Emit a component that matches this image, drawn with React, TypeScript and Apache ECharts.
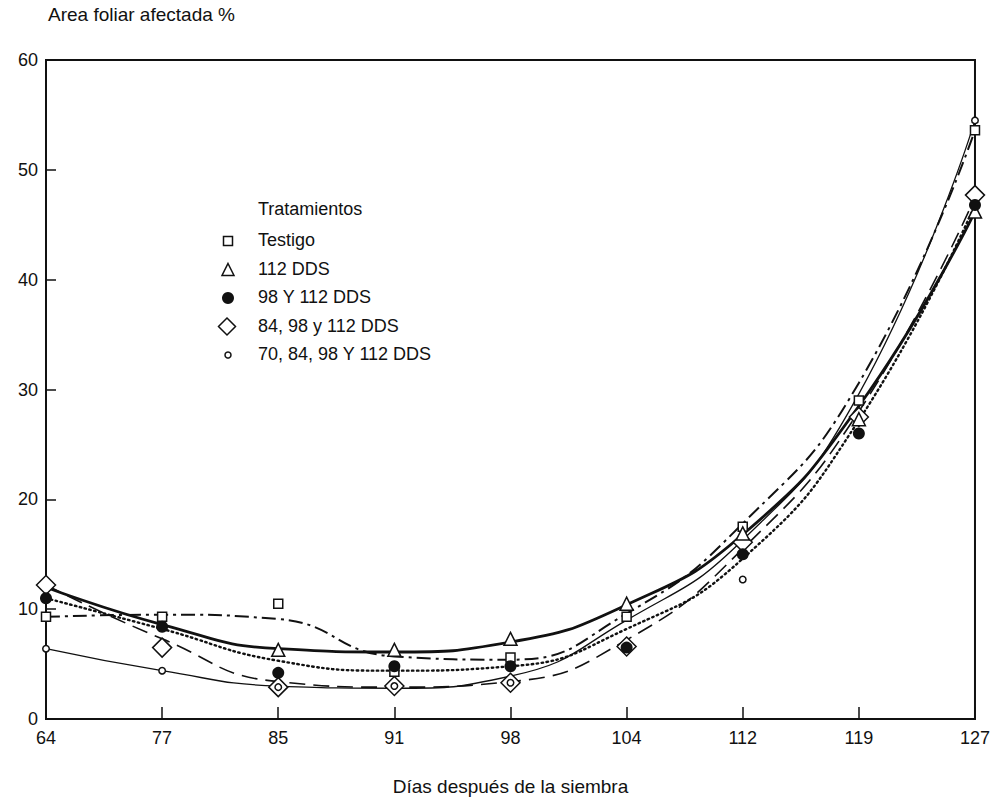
import React, { useEffect, useRef } from "react";
import * as echarts from "echarts";

// ---- data ----
const days = ["64", "77", "85", "91", "98", "104", "112", "119", "127"];
const treatmentNames = [
  "Testigo",
  "112 DDS",
  "98 Y 112 DDS",
  "84, 98 y 112 DDS",
  "70, 84, 98 Y 112 DDS",
];

// observed points (% leaf area affected)
const obsTestigo = [9.3, 9.3, 10.5, 4.3, 5.6, 9.3, 17.5, 29.0, 53.6];
const obs112 = [null, null, 6.3, 6.3, 7.3, 10.5, 16.9, 27.3, 46.2];
const obs98_112 = [11.0, 8.4, 4.2, 4.8, 4.8, 6.5, 15.0, 26.0, 46.8];
const obs84_98_112 = [12.2, 6.5, 2.9, 3.0, 3.3, 6.6, 16.1, 27.5, 47.7];
const obs70_84_98_112 = [6.4, 4.4, 2.9, 3.0, 3.3, null, 12.7, null, 54.5];

// fitted curves (read at each sampling day)
const fitTestigo = [9.3, 9.5, 9.1, 5.7, 5.4, 9.6, 17.8, 30.6, 53.6];
const fit112 = [12.0, 8.6, 6.4, 6.1, 7.0, 10.4, 16.8, 28.5, 46.2];
const fit98_112 = [11.0, 8.2, 5.3, 4.4, 4.8, 8.2, 14.6, 27.2, 46.8];
const fit84_98_112 = [12.2, 7.3, 3.4, 2.9, 3.4, 7.2, 15.5, 28.0, 47.5];
const fit70_84_98_112 = [6.4, 4.4, 3.0, 2.8, 3.9, 9.0, 16.3, 29.6, 54.5];

const FONT = "'Liberation Sans', Arial, Helvetica, sans-serif";
const INK = "#111";

export default function App() {
  const ref = useRef<HTMLDivElement>(null);

  useEffect(() => {
    if (!ref.current) return;
    const chart = echarts.init(ref.current, null, { renderer: "svg" });

    const lineBase = (name: string, data: (number | null)[], ls: any) => ({
      type: "line",
      name: name + " (ajuste)",
      data,
      smooth: 0.5,
      symbol: "none",
      z: 2,
      lineStyle: { color: INK, ...ls },
      silent: true,
    });

    const scatterBase = (
      name: string,
      data: (number | null)[],
      symbol: string,
      size: number,
      filled: boolean,
      z: number
    ) => ({
      type: "scatter",
      name,
      data,
      symbol,
      symbolSize: size,
      z,
      itemStyle: {
        color: filled ? INK : "#fff",
        borderColor: INK,
        borderWidth: filled ? 0 : 1.5,
        opacity: 1,
      },
    });

    // legend built from the treatment names
    const legendSymbols = [
      { kind: "square", size: 9 },
      { kind: "triangle", size: 12 },
      { kind: "dot", size: 12 },
      { kind: "diamond", size: 17 },
      { kind: "ring", size: 6 },
    ];
    const legendX = 228;
    const legendY0 = 241;
    const legendStep = 28.5;
    const legendGraphics: any[] = [
      {
        type: "text",
        left: 258,
        top: 200,
        style: { text: "Tratamientos", font: `18px ${FONT}`, fill: INK },
      },
    ];
    treatmentNames.forEach((n, i) => {
      const cy = legendY0 + i * legendStep;
      const s = legendSymbols[i];
      const stroke = { stroke: INK, lineWidth: 1.5, fill: "#fff" };
      let shape: any;
      if (s.kind === "square") {
        shape = {
          type: "rect",
          shape: { x: legendX - s.size / 2, y: cy - s.size / 2, width: s.size, height: s.size },
          style: stroke,
        };
      } else if (s.kind === "triangle") {
        const h = s.size;
        shape = {
          type: "polygon",
          shape: {
            points: [
              [legendX, cy - h / 2],
              [legendX + h / 2, cy + h / 2],
              [legendX - h / 2, cy + h / 2],
            ],
          },
          style: stroke,
        };
      } else if (s.kind === "dot") {
        shape = { type: "circle", shape: { cx: legendX, cy, r: s.size / 2 }, style: { fill: INK } };
      } else if (s.kind === "diamond") {
        const h = s.size / 2;
        shape = {
          type: "polygon",
          shape: {
            points: [
              [legendX - 1, cy - h],
              [legendX - 1 + h, cy],
              [legendX - 1, cy + h],
              [legendX - 1 - h, cy],
            ],
          },
          style: stroke,
        };
      } else {
        shape = { type: "circle", shape: { cx: legendX, cy, r: s.size / 2 }, style: stroke };
      }
      legendGraphics.push(shape);
      legendGraphics.push({
        type: "text",
        left: 258,
        top: cy - 10,
        style: { text: n, font: `18px ${FONT}`, fill: INK },
      });
    });

    chart.setOption({
      animation: false,
      backgroundColor: "#fff",
      textStyle: { fontFamily: FONT, color: INK },
      grid: {
        left: 46,
        right: 10,
        top: 60,
        bottom: 75,
        show: true,
        borderColor: INK,
        borderWidth: 2,
        backgroundColor: "transparent",
      },
      xAxis: {
        type: "category",
        data: days,
        boundaryGap: false,
        name: "Días después de la siembra",
        nameLocation: "middle",
        nameGap: 58,
        nameTextStyle: { fontSize: 19, color: INK, fontFamily: FONT },
        axisLine: { lineStyle: { color: INK, width: 2 } },
        axisTick: { inside: true, length: 12, lineStyle: { color: INK, width: 1.5 } },
        axisLabel: { fontSize: 18, color: INK, margin: 10, fontFamily: FONT },
        splitLine: { show: false },
      },
      yAxis: {
        type: "value",
        min: 0,
        max: 60,
        interval: 10,
        name: "Area foliar afectada %",
        nameLocation: "end",
        nameGap: 36,
        nameTextStyle: { fontSize: 19, color: INK, align: "left", padding: [0, 0, 0, 2], fontFamily: FONT },
        axisLine: { show: true, lineStyle: { color: INK, width: 2 } },
        axisTick: { show: true, inside: true, length: 10, lineStyle: { color: INK, width: 1.5 } },
        axisLabel: { fontSize: 18, color: INK, margin: 8, fontFamily: FONT },
        splitLine: { show: false },
      },
      graphic: legendGraphics,
      series: [
        lineBase(treatmentNames[0], fitTestigo, { width: 2, type: [14, 5, 3, 5] }),
        lineBase(treatmentNames[1], fit112, { width: 2.8, type: "solid" }),
        lineBase(treatmentNames[2], fit98_112, { width: 2.4, type: [1.5, 3.5], cap: "round" }),
        lineBase(treatmentNames[3], fit84_98_112, { width: 1.6, type: [16, 8] }),
        lineBase(treatmentNames[4], fit70_84_98_112, { width: 1.3, type: "solid" }),
        scatterBase(treatmentNames[3], obs84_98_112, "diamond", 19, false, 3),
        scatterBase(treatmentNames[0], obsTestigo, "rect", 9, false, 4),
        scatterBase(treatmentNames[1], obs112, "triangle", 13, false, 5),
        scatterBase(treatmentNames[2], obs98_112, "circle", 12, true, 6),
        scatterBase(treatmentNames[4], obs70_84_98_112, "circle", 6.5, false, 7),
      ],
    });

    return () => chart.dispose();
  }, []);

  return (
    <div
      ref={ref}
      style={{ position: "fixed", left: 0, top: 0, width: 993, height: 801, background: "#fff" }}
    />
  );
}
